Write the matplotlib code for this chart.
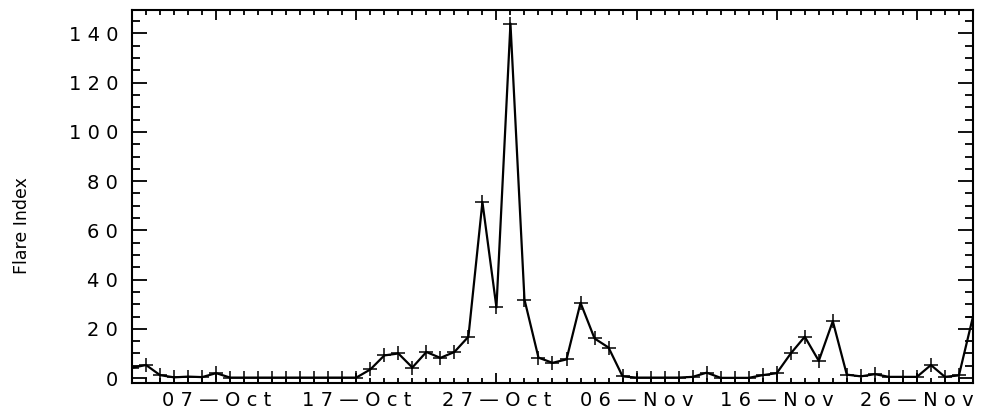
import numpy as np
import pandas as pd
import matplotlib
matplotlib.use('Agg')
import matplotlib.pyplot as plt
import matplotlib.dates as mdates
from matplotlib.ticker import MultipleLocator, FuncFormatter

# daily flare index, 1 Oct - 30 Nov 2003
days = pd.date_range('2003-10-01', '2003-11-30', freq='D')
flare_index = [
    4.2, 5.3, 1.2, 0.3, 0.6, 0.4, 2.0, 0.2,
    0.2, 0.2, 0.2, 0.2, 0.2, 0.2, 0.2, 0.2, 0.2,
    3.5, 9.2, 10.0, 4.3, 10.6, 8.2, 10.6, 16.8, 71.5,
    28.7, 144.0, 31.9, 8.3, 6.2, 7.6, 30.6, 16.1, 12.4,
    0.7, 0.2, 0.2, 0.2, 0.2, 0.5, 2.2, 0.1, 0.1, 0.1,
    1.2, 2.0, 10.0, 16.8, 7.0, 23.1, 1.4, 0.7, 1.6, 0.5,
    0.5, 0.5, 5.3, 0.5, 1.1, 24.9,
]
label_days = pd.date_range('2003-10-07', periods=6, freq='10D')
y_major = np.arange(0, 141, 20)


def spaced(s):
    # wide letter spacing like the old plotting font
    return ' '.join(s)


plt.rcParams['font.family'] = 'DejaVu Sans'

fig = plt.figure(figsize=(9.81, 4.17), dpi=100)
ax = fig.add_axes([0.1346, 0.0815, 0.8572, 0.8945])

ax.plot(days, flare_index, color='black', lw=1.6, marker='+',
        markersize=10, mew=1.1)

ax.set_xlim(days[0], days[-1])
ax.set_ylim(-2, 149.5)

ax.set_xticks(label_days)
ax.xaxis.set_minor_locator(mdates.DayLocator())
ax.xaxis.set_major_formatter(
    FuncFormatter(lambda v, pos: spaced(mdates.num2date(v).strftime('%d—%b'))))

ax.set_yticks(y_major)
ax.yaxis.set_minor_locator(MultipleLocator(5))
ax.yaxis.set_major_formatter(FuncFormatter(lambda v, pos: spaced('%d' % v)))

ax.tick_params(axis='both', which='both', direction='in', top=True,
               right=True, width=1.3, labelsize=14)
ax.tick_params(axis='x', which='major', length=7.5, pad=6)
ax.tick_params(axis='x', which='minor', length=3.5)
ax.tick_params(axis='y', which='major', length=11, pad=10)
ax.tick_params(axis='y', which='minor', length=6)

for sp in ax.spines.values():
    sp.set_linewidth(1.5)

fig.text(0.022, 0.46, 'Flare Index', rotation=90, ha='center', va='center',
         fontsize=12.5, family=['Liberation Sans Narrow', 'DejaVu Sans'])

fig.savefig('out.png', dpi=100)
